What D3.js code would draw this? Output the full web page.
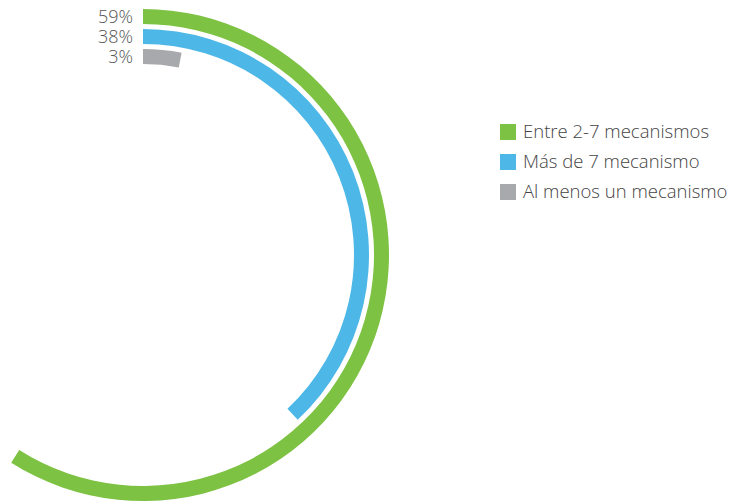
<!DOCTYPE html>
<html>
<head>
<meta charset="utf-8">
<script src="https://cdn.jsdelivr.net/npm/d3@7"></script>
<style>
  body { margin: 0; background: #fff; }
  text { font-family: "Open Sans", sans-serif; font-weight: 300; }
</style>
</head>
<body>
<div id="chart"></div>
<script>
//data
const categories = ['Entre 2-7 mecanismos', 'Más de 7 mecanismo', 'Al menos un mecanismo'];
const values = [59, 38, 3];
const colors = ['#7dc242', '#4db8e8', '#a7a9ac'];

const width = 756, height = 504;
const cx = 143, cy = 255;

const svg = d3.select('#chart').append('svg')
    .attr('width', width)
    .attr('height', height);

//full circle = 100%
const angle = d3.scaleLinear().domain([0, 100]).range([0, 2 * Math.PI]);
//one ring per category, outer to inner (band start = inner radius)
const ring = d3.scaleBand().domain(categories).range([246, 191]).paddingInner(0.25).paddingOuter(0);

const arc = d3.arc()
    .startAngle(0)
    .endAngle(d => angle(d.value))
    .innerRadius(d => ring(d.cat))
    .outerRadius(d => ring(d.cat) + ring.bandwidth());

const rows = categories.map((c, i) => ({ cat: c, value: values[i], color: colors[i] }));

const g = svg.append('g').attr('transform', `translate(${cx},${cy})`);

g.selectAll('path')
    .data(rows)
  .enter().append('path')
    .attr('d', arc)
    .attr('fill', d => d.color);

//percent labels left of the ring starts
g.selectAll('.pct')
    .data(rows)
  .enter().append('text')
    .attr('class', 'pct')
    .attr('x', -10)
    .attr('y', d => -(ring(d.cat) + ring.bandwidth() / 2))
    .attr('dy', '0.35em')
    .attr('text-anchor', 'end')
    .attr('font-size', 18)
    .attr('fill', '#555')
    .text(d => d.value + '%');

//legend
const legend = svg.append('g').attr('transform', 'translate(500,132)');
const item = legend.selectAll('g')
    .data(rows)
  .enter().append('g')
    .attr('transform', (d, i) => `translate(0,${i * 30})`);

item.append('rect')
    .attr('x', 0).attr('y', -8)
    .attr('width', 16).attr('height', 16)
    .attr('fill', d => d.color);

item.append('text')
    .attr('x', 23)
    .attr('dy', '0.35em')
    .attr('font-size', 18.5)
    .attr('fill', '#444')
    .text(d => d.cat);
</script>
</body>
</html>
